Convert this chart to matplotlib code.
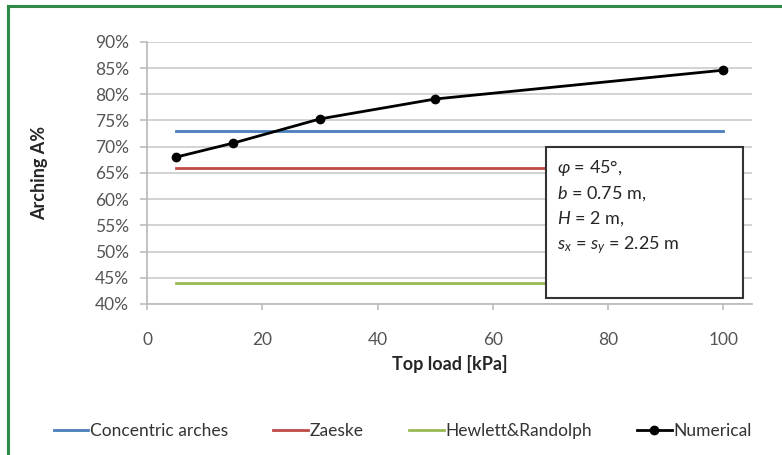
import matplotlib
matplotlib.use("Agg")
import matplotlib.pyplot as plt
from matplotlib.patches import Rectangle
from matplotlib.ticker import FuncFormatter

plt.rcParams['font.family'] = ['Lato', 'DejaVu Sans']
plt.rcParams['mathtext.fontset'] = 'custom'
plt.rcParams['mathtext.rm'] = 'Lato'
plt.rcParams['mathtext.it'] = 'Lato:italic'

# data
top_load = [5, 15, 30, 50, 100]
numerical = [68.0, 70.7, 75.3, 79.1, 84.6]
line_x = [5, 100]
concentric = [73.0, 73.0]
zaeske = [66.0, 66.0]
hewlett = [44.0, 44.0]

x_ticks = [0, 20, 40, 60, 80, 100]
y_ticks = list(range(40, 95, 5))

fig = plt.figure(figsize=(7.82, 4.55), dpi=100)
ax = fig.add_axes([0.188, 0.332, 0.774, 0.576])

ax.plot(line_x, concentric, color='#4a7ebb', lw=2.0, label='Concentric arches', zorder=2)
ax.plot(line_x, zaeske, color='#be4b48', lw=2.0, label='Zaeske', zorder=2)
ax.plot(line_x, hewlett, color='#98b954', lw=2.0, label='Hewlett&Randolph', zorder=2)
ax.plot(top_load, numerical, color='black', lw=2.0, marker='o', ms=6,
        label='Numerical', zorder=3)

ax.set_xlim(0, 105)
ax.set_ylim(40, 90)
ax.set_xticks(x_ticks)
ax.set_yticks(y_ticks)
ax.yaxis.set_major_formatter(FuncFormatter(lambda v, p: f'{v:.0f}%'))
ax.grid(axis='y', color='#cfcfcf', lw=1.3, zorder=0)
ax.set_axisbelow(True)

for s in ['top', 'right']:
    ax.spines[s].set_visible(False)
for s in ['left', 'bottom']:
    ax.spines[s].set_color('#bdbdbd')
    ax.spines[s].set_linewidth(1.3)

ax.tick_params(axis='x', direction='out', length=4, width=1.2, color='#bdbdbd',
               pad=16, labelsize=12.5, labelcolor='#555555')
ax.tick_params(axis='y', direction='out', length=5, width=1.2, color='#bdbdbd',
               pad=8, labelsize=12.5, labelcolor='#555555')

ax.set_xlabel('Top load [kPa]', fontsize=13, fontweight='bold', color='#262626', labelpad=5)
ax.set_ylabel('Arching A%', fontsize=13, fontweight='bold', color='#262626', labelpad=34)

# parameter box
box = Rectangle((0.659, 0.023), 0.326, 0.576, transform=ax.transAxes,
                facecolor='white', edgecolor='#333333', lw=1.5, zorder=5)
ax.add_patch(box)
params = [r'$\varphi$ = 45°,', r'$b$ = 0.75 m,', r'$H$ = 2 m,',
          r'$s_x$ = $s_y$ = 2.25 m']
for i, t in enumerate(params):
    ax.text(0.678, 0.52 - i * 0.098, t, transform=ax.transAxes, fontsize=13,
            color='#262626', va='center', ha='left', zorder=6)

fig.legend(loc='center', bbox_to_anchor=(0.515, 0.052), ncol=4, frameon=False,
           fontsize=12.5, handlelength=2.0, handletextpad=0.1, columnspacing=2.6,
           labelcolor='#333333')

# green outer frame
fig.add_artist(plt.Line2D([0.0105, 0.0105], [0, 0.987], color='#2e8b47', lw=2.2))
fig.add_artist(plt.Line2D([0.0105, 1.0], [0.987, 0.987], color='#2e8b47', lw=2.2))

fig.savefig('out.png', dpi=100)
